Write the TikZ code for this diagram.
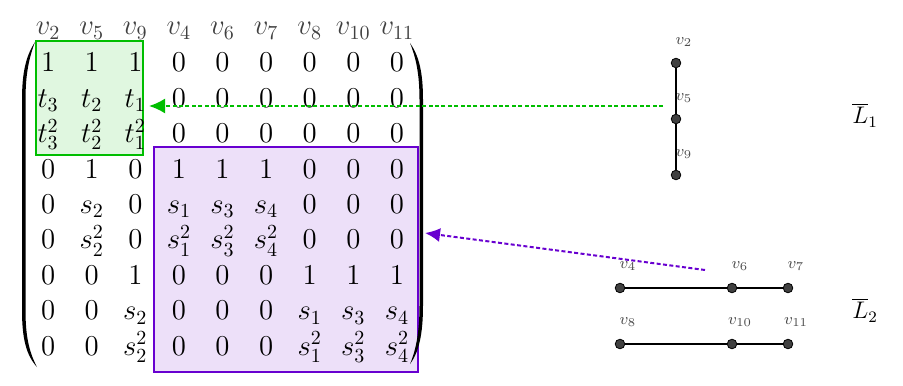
\documentclass[tikz,border=0pt]{standalone}
\usepackage{amsmath,amssymb}
\usepackage{tikz}
\usepackage{xcolor}
\usetikzlibrary{matrix,positioning,calc,fit,backgrounds,arrows.meta}
\definecolor{blockGreen}{RGB}{0,190,0}
\definecolor{blockViolet}{RGB}{104,0,208}
\definecolor{vertexGray}{RGB}{64,64,64}
\tikzset{
  cell/.style={minimum width=21.8pt, minimum height=17.7pt, inner sep=0pt, text height=10pt, text depth=4pt, font=\Large},
  vertex/.style={circle, draw=black, fill=vertexGray, minimum size=4.8pt, inner sep=0pt},
  vlabel/.style={font=\footnotesize, text=black!70, inner sep=1pt},
  greenblock/.style={draw=blockGreen, line width=1pt, fill=blockGreen!12, inner sep=0pt},
  violetblock/.style={draw=blockViolet, line width=0.8pt, fill=blockViolet!12, inner sep=0pt},
  link/.style={line width=1pt, dash pattern=on 2pt off 1.2pt}
}

\begin{document}
\begin{tikzpicture}[x=0.5pt, y=-0.5pt]
    \useasboundingbox (0,0) rectangle (903,385);

    % Matrix
    \matrix (M) [matrix of math nodes, inner sep=0pt, nodes={cell}] at (222.5,207.5) {
        1 & 1 & 1 & 0 & 0 & 0 & 0 & 0 & 0 \\
        t_3 & t_2 & t_1 & 0 & 0 & 0 & 0 & 0 & 0 \\
        t_3^2 & t_2^2 & t_1^2 & 0 & 0 & 0 & 0 & 0 & 0 \\
        0 & 1 & 0 & 1 & 1 & 1 & 0 & 0 & 0 \\
        0 & s_2 & 0 & s_1 & s_3 & s_4 & 0 & 0 & 0 \\
        0 & s_2^2 & 0 & s_1^2 & s_3^2 & s_4^2 & 0 & 0 & 0 \\
        0 & 0 & 1 & 0 & 0 & 0 & 1 & 1 & 1 \\
        0 & 0 & s_2 & 0 & 0 & 0 & s_1 & s_3 & s_4 \\
        0 & 0 & s_2^2 & 0 & 0 & 0 & s_1^2 & s_3^2 & s_4^2 \\
    };

    % Parentheses
    \fill (35,42) .. controls (26,56) and (22,72) .. (22,100) -- (22,310)
        .. controls (22,338) and (26,355) .. (37,367)
        .. controls (29,352) and (25.5,336) .. (25.5,310) -- (25.5,100)
        .. controls (25.5,74) and (29,58) .. (35,42) -- cycle;
    \fill (410,43) .. controls (419,56) and (423,72) .. (423,100) -- (423,305)
        .. controls (423,334) and (419,352) .. (410,364)
        .. controls (416,350) and (419.5,332) .. (419.5,305) -- (419.5,100)
        .. controls (419.5,74) and (416,58) .. (410,43) -- cycle;

    % Column labels
    \foreach \c/\v in {1/2,2/5,3/9,4/4,5/6,6/7,7/8,8/10,9/11} {
        \node[cell, text=black!75] (h\c) at ([yshift=18.5pt]M-1-\c.center) {$v_{\v}$};
    }

    % Blocks
    \begin{scope}[on background layer]
        \node[greenblock, fit={(36,41) (143,155)}] (gblock) {};
        \node[violetblock, fit={(154,147) (418,372)}] (vblock) {};
    \end{scope}

    % Graph L1
    \foreach \i/\y in {2/63,5/119,9/175} {
        \node[vertex] (n\i) at (676,\y) {};
        \node[vlabel] at ([xshift=4pt,yshift=10.5pt]n\i) {$v_{\i}$};
    }
    \draw[line width=0.8pt] (n2) -- (n5) -- (n9);
    \node[font=\large] (L1) at (865,115) {$\overline{L}_1$};

    % Graph L2
    \foreach \i/\x/\y in {4/620/288,6/732/288,7/788/288,8/620/344,10/732/344,11/788/344} {
        \node[vertex] (n\i) at (\x,\y) {};
        \node[vlabel] at ([xshift=4pt,yshift=11pt]n\i) {$v_{\i}$};
    }
    \draw[line width=0.8pt] (n4) -- (n6) -- (n7);
    \draw[line width=0.8pt] (n8) -- (n10) -- (n11);
    \node[font=\large] (L2) at (865,310) {$\overline{L}_2$};

    % Arrows
    \coordinate (g0) at (663,106);
    \draw[link, blockGreen, -{Latex[length=8pt,width=7.5pt]}, shorten >=2.5pt] (g0) -- (g0 -| gblock.east);
    \coordinate (p0) at (705,270);
    \coordinate (p1) at (425,233);
    \draw[link, blockViolet, -{Latex[length=7.5pt,width=7pt]}] (p0) -- (p1);
\end{tikzpicture}
\end{document}
